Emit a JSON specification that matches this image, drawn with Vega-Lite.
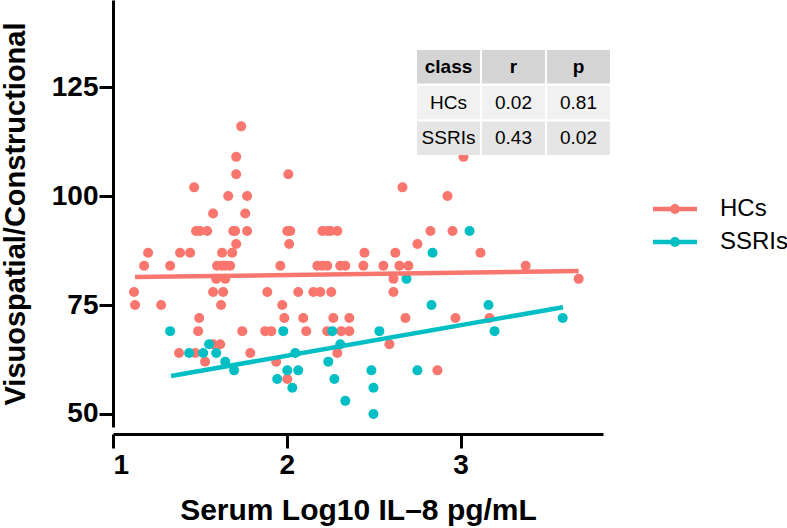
{
  "$schema": "https://vega.github.io/schema/vega-lite/v6.json",
  "autosize": "none",
  "width": 490,
  "height": 427,
  "padding": {"left": 113, "top": 0, "right": 184, "bottom": 101},
  "background": "white",
  "config": {
    "view": {"stroke": null},
    "font": "Liberation Sans",
    "axis": {
      "grid": false,
      "domainColor": "black",
      "domainWidth": 3,
      "tickColor": "black",
      "tickWidth": 3,
      "tickSize": 14,
      "labelFont": "Liberation Sans",
      "labelFontSize": 28,
      "labelFontWeight": "bold",
      "labelColor": "black",
      "titleFont": "Liberation Sans",
      "titleFontWeight": "bold",
      "titleColor": "black"
    }
  },
  "datasets": {
    "pts": [
      {"class": "HCs", "il8": 1.738, "score": 116},
      {"class": "HCs", "il8": 1.709, "score": 109},
      {"class": "HCs", "il8": 1.709, "score": 105},
      {"class": "HCs", "il8": 1.467, "score": 102},
      {"class": "HCs", "il8": 1.663, "score": 100},
      {"class": "HCs", "il8": 1.772, "score": 100},
      {"class": "HCs", "il8": 1.576, "score": 96},
      {"class": "HCs", "il8": 1.761, "score": 96},
      {"class": "HCs", "il8": 1.478, "score": 92},
      {"class": "HCs", "il8": 1.501, "score": 92},
      {"class": "HCs", "il8": 1.542, "score": 92},
      {"class": "HCs", "il8": 1.692, "score": 92},
      {"class": "HCs", "il8": 1.703, "score": 92},
      {"class": "HCs", "il8": 1.772, "score": 92},
      {"class": "HCs", "il8": 1.709, "score": 89},
      {"class": "HCs", "il8": 1.202, "score": 87},
      {"class": "HCs", "il8": 1.386, "score": 87},
      {"class": "HCs", "il8": 1.444, "score": 87},
      {"class": "HCs", "il8": 1.628, "score": 87},
      {"class": "HCs", "il8": 1.686, "score": 87},
      {"class": "HCs", "il8": 1.179, "score": 84},
      {"class": "HCs", "il8": 1.329, "score": 84},
      {"class": "HCs", "il8": 1.599, "score": 84},
      {"class": "HCs", "il8": 1.628, "score": 84},
      {"class": "HCs", "il8": 1.646, "score": 84},
      {"class": "HCs", "il8": 1.674, "score": 84},
      {"class": "HCs", "il8": 1.594, "score": 81},
      {"class": "HCs", "il8": 1.646, "score": 81},
      {"class": "HCs", "il8": 1.121, "score": 78},
      {"class": "HCs", "il8": 1.576, "score": 78},
      {"class": "HCs", "il8": 1.634, "score": 78},
      {"class": "HCs", "il8": 1.127, "score": 75},
      {"class": "HCs", "il8": 1.277, "score": 75},
      {"class": "HCs", "il8": 1.622, "score": 75},
      {"class": "HCs", "il8": 1.496, "score": 72},
      {"class": "HCs", "il8": 1.49, "score": 69},
      {"class": "HCs", "il8": 1.744, "score": 69},
      {"class": "HCs", "il8": 1.576, "score": 66},
      {"class": "HCs", "il8": 1.617, "score": 66},
      {"class": "HCs", "il8": 1.38, "score": 64},
      {"class": "HCs", "il8": 1.473, "score": 64},
      {"class": "HCs", "il8": 1.79, "score": 64},
      {"class": "HCs", "il8": 1.53, "score": 62},
      {"class": "HCs", "il8": 2.009, "score": 105},
      {"class": "HCs", "il8": 2.003, "score": 92},
      {"class": "HCs", "il8": 2.02, "score": 92},
      {"class": "HCs", "il8": 2.205, "score": 92},
      {"class": "HCs", "il8": 2.233, "score": 92},
      {"class": "HCs", "il8": 2.251, "score": 92},
      {"class": "HCs", "il8": 2.291, "score": 92},
      {"class": "HCs", "il8": 2.014, "score": 89},
      {"class": "HCs", "il8": 2.447, "score": 87},
      {"class": "HCs", "il8": 1.963, "score": 84},
      {"class": "HCs", "il8": 2.176, "score": 84},
      {"class": "HCs", "il8": 2.205, "score": 84},
      {"class": "HCs", "il8": 2.233, "score": 84},
      {"class": "HCs", "il8": 2.308, "score": 84},
      {"class": "HCs", "il8": 2.337, "score": 84},
      {"class": "HCs", "il8": 2.441, "score": 84},
      {"class": "HCs", "il8": 2.556, "score": 84},
      {"class": "HCs", "il8": 2.614, "score": 81},
      {"class": "HCs", "il8": 1.888, "score": 78},
      {"class": "HCs", "il8": 2.066, "score": 78},
      {"class": "HCs", "il8": 2.153, "score": 78},
      {"class": "HCs", "il8": 2.193, "score": 78},
      {"class": "HCs", "il8": 2.256, "score": 78},
      {"class": "HCs", "il8": 2.614, "score": 78},
      {"class": "HCs", "il8": 1.974, "score": 75},
      {"class": "HCs", "il8": 1.986, "score": 72},
      {"class": "HCs", "il8": 2.095, "score": 72},
      {"class": "HCs", "il8": 2.268, "score": 72},
      {"class": "HCs", "il8": 2.36, "score": 72},
      {"class": "HCs", "il8": 1.876, "score": 69},
      {"class": "HCs", "il8": 1.911, "score": 69},
      {"class": "HCs", "il8": 2.112, "score": 69},
      {"class": "HCs", "il8": 2.233, "score": 69},
      {"class": "HCs", "il8": 2.314, "score": 69},
      {"class": "HCs", "il8": 2.36, "score": 69},
      {"class": "HCs", "il8": 2.291, "score": 64},
      {"class": "HCs", "il8": 2.591, "score": 66},
      {"class": "HCs", "il8": 1.939, "score": 62},
      {"class": "HCs", "il8": 2.003, "score": 58},
      {"class": "HCs", "il8": 3.017, "score": 109},
      {"class": "HCs", "il8": 2.666, "score": 102},
      {"class": "HCs", "il8": 2.925, "score": 100},
      {"class": "HCs", "il8": 2.827, "score": 92},
      {"class": "HCs", "il8": 2.954, "score": 92},
      {"class": "HCs", "il8": 2.752, "score": 89},
      {"class": "HCs", "il8": 2.625, "score": 87},
      {"class": "HCs", "il8": 3.115, "score": 87},
      {"class": "HCs", "il8": 2.648, "score": 84},
      {"class": "HCs", "il8": 2.7, "score": 84},
      {"class": "HCs", "il8": 3.375, "score": 84},
      {"class": "HCs", "il8": 2.683, "score": 72},
      {"class": "HCs", "il8": 2.971, "score": 72},
      {"class": "HCs", "il8": 3.167, "score": 72},
      {"class": "HCs", "il8": 2.867, "score": 60},
      {"class": "HCs", "il8": 3.68, "score": 81},
      {"class": "SSRIs", "il8": 1.329, "score": 69},
      {"class": "SSRIs", "il8": 1.553, "score": 66},
      {"class": "SSRIs", "il8": 1.438, "score": 64},
      {"class": "SSRIs", "il8": 1.519, "score": 64},
      {"class": "SSRIs", "il8": 1.594, "score": 64},
      {"class": "SSRIs", "il8": 1.646, "score": 62},
      {"class": "SSRIs", "il8": 1.697, "score": 60},
      {"class": "SSRIs", "il8": 1.98, "score": 69},
      {"class": "SSRIs", "il8": 2.262, "score": 69},
      {"class": "SSRIs", "il8": 2.533, "score": 69},
      {"class": "SSRIs", "il8": 2.049, "score": 64},
      {"class": "SSRIs", "il8": 2.308, "score": 66},
      {"class": "SSRIs", "il8": 2.239, "score": 62},
      {"class": "SSRIs", "il8": 2.003, "score": 60},
      {"class": "SSRIs", "il8": 2.066, "score": 60},
      {"class": "SSRIs", "il8": 2.487, "score": 60},
      {"class": "SSRIs", "il8": 1.945, "score": 58},
      {"class": "SSRIs", "il8": 2.274, "score": 58},
      {"class": "SSRIs", "il8": 2.032, "score": 56},
      {"class": "SSRIs", "il8": 2.499, "score": 56},
      {"class": "SSRIs", "il8": 2.337, "score": 53},
      {"class": "SSRIs", "il8": 2.499, "score": 50},
      {"class": "SSRIs", "il8": 3.052, "score": 92},
      {"class": "SSRIs", "il8": 2.839, "score": 87},
      {"class": "SSRIs", "il8": 2.689, "score": 81},
      {"class": "SSRIs", "il8": 2.833, "score": 75},
      {"class": "SSRIs", "il8": 3.161, "score": 75},
      {"class": "SSRIs", "il8": 3.196, "score": 69},
      {"class": "SSRIs", "il8": 2.752, "score": 60},
      {"class": "SSRIs", "il8": 3.588, "score": 72}
    ],
    "fit": [
      {"class": "HCs", "il8": 1.127, "score": 81.4},
      {"class": "HCs", "il8": 3.68, "score": 82.8},
      {"class": "SSRIs", "il8": 1.334, "score": 58.7},
      {"class": "SSRIs", "il8": 3.59, "score": 74.5}
    ],
    "tbl": [
      {"row": "header", "col": "class", "label": "class"},
      {"row": "header", "col": "r", "label": "r"},
      {"row": "header", "col": "p", "label": "p"},
      {"row": "HCs", "col": "class", "label": "HCs"},
      {"row": "HCs", "col": "r", "label": "0.02"},
      {"row": "HCs", "col": "p", "label": "0.81"},
      {"row": "SSRIs", "col": "class", "label": "SSRIs"},
      {"row": "SSRIs", "col": "r", "label": "0.43"},
      {"row": "SSRIs", "col": "p", "label": "0.02"}
    ]
  },
  "layer": [
    {
      "layer": [
        {
          "data": {"name": "pts"},
          "mark": {"type": "point", "filled": true, "opacity": 1, "size": 100, "strokeWidth": 0},
          "encoding": {
            "x": {"field": "il8", "type": "quantitative", "scale": {"domain": [1, 3.82], "nice": false, "zero": false},
              "axis": {"values": [1, 2, 3], "format": "d", "offset": 7, "title": "Serum Log10 IL\u20138 pg/mL", "titleFontSize": 30, "titlePadding": 16, "labelPadding": 3}},
            "y": {"field": "score", "type": "quantitative", "scale": {"domain": [47, 145], "nice": false, "zero": false},
              "axis": {"values": [50, 75, 100, 125], "title": "Visuospatial/Constructional", "titleFontSize": 29, "titlePadding": 21, "labelPadding": 1}},
            "color": {"field": "class", "type": "nominal",
              "scale": {"domain": ["HCs", "SSRIs"], "range": ["#F8766D", "#00BFC4"]},
              "legend": {
                "title": null,
                "orient": "none",
                "legendX": 550,
                "legendY": 197,
                "padding": 0,
                "symbolType": "M-2,-0.2H2V0.2H-2Z M0.45,0A0.45,0.45 0 1,1 -0.45,0A0.45,0.45 0 1,1 0.45,0Z",
                "symbolSize": 484,
                "symbolStrokeWidth": 0,
                "symbolOpacity": 1,
                "labelFont": "Liberation Sans",
                "labelFontSize": 24,
                "labelColor": "black",
                "labelOffset": 33,
                "rowPadding": 9
              }}
          }
        },
        {
          "data": {"name": "fit"},
          "mark": {"type": "line", "strokeWidth": 4.5},
          "encoding": {
            "x": {"field": "il8", "type": "quantitative"},
            "y": {"field": "score", "type": "quantitative"},
            "color": {"field": "class", "type": "nominal", "legend": null},
            "detail": {"field": "class"}
          }
        }
      ]
    },
    {
      "data": {"name": "tbl"},
      "encoding": {
        "x": {"field": "col", "type": "nominal", "scale": {"domain": ["class", "r", "p"], "range": [304, 497], "paddingInner": 0.03, "paddingOuter": 0}, "axis": null},
        "y": {"field": "row", "type": "nominal", "scale": {"domain": ["header", "HCs", "SSRIs"], "range": [50, 155], "paddingInner": 0.06, "paddingOuter": 0}, "axis": null}
      },
      "layer": [
        {
          "mark": {"type": "rect"},
          "encoding": {
            "fill": {"field": "row", "type": "nominal", "scale": {"domain": ["header", "HCs", "SSRIs"], "range": ["#d4d4d4", "#f1f1f1", "#e5e5e5"]}, "legend": null}
          }
        },
        {
          "transform": [{"filter": "datum.row === 'header'"}],
          "mark": {"type": "text", "font": "Liberation Sans", "fontSize": 19, "fontWeight": "bold", "color": "black"},
          "encoding": {"text": {"field": "label"}}
        },
        {
          "transform": [{"filter": "datum.row !== 'header'"}],
          "mark": {"type": "text", "font": "Liberation Sans", "fontSize": 19, "color": "black"},
          "encoding": {"text": {"field": "label"}}
        }
      ]
    }
  ],
  "resolve": {"scale": {"x": "independent", "y": "independent"}}
}
